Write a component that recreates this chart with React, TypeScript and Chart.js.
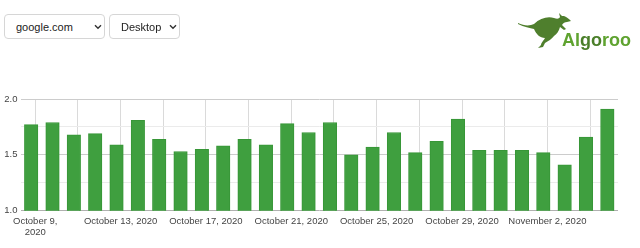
import React, { useEffect, useRef } from "react";
import { Chart, registerables } from "chart.js";

Chart.register(...registerables);

const dates = [
  "Oct 9", "Oct 10", "Oct 11", "Oct 12", "Oct 13", "Oct 14", "Oct 15",
  "Oct 16", "Oct 17", "Oct 18", "Oct 19", "Oct 20", "Oct 21", "Oct 22",
  "Oct 23", "Oct 24", "Oct 25", "Oct 26", "Oct 27", "Oct 28", "Oct 29",
  "Oct 30", "Oct 31", "Nov 1", "Nov 2", "Nov 3", "Nov 4", "Nov 5",
];
const values = [
  1.77, 1.79, 1.68, 1.69, 1.59, 1.81, 1.64,
  1.53, 1.55, 1.58, 1.64, 1.59, 1.78, 1.70,
  1.79, 1.50, 1.57, 1.70, 1.52, 1.62, 1.82,
  1.54, 1.54, 1.54, 1.52, 1.41, 1.66, 1.91,
];
const gridDays = [0, 2, 4, 6, 8, 10, 12, 14, 16, 18, 20, 22, 24, 26];
const xTickLabels: (string | string[])[] = [
  ["October 9,", "2020"],
  "October 13, 2020",
  "October 17, 2020",
  "October 21, 2020",
  "October 25, 2020",
  "October 29, 2020",
  "November 2, 2020",
];
const yMin = 1.0;
const yMax = 2.0;
const yStep = 0.25;
const domains = ["google.com"];
const devices = ["Desktop"];

const TICK_SHIFT = 0.19;
const FONT = "'Liberation Sans', Arial, sans-serif";

function Chevron({ left }: { left: number }) {
  return (
    <svg
      style={{ position: "absolute", left, top: 24, pointerEvents: "none" }}
      width="8"
      height="6"
      viewBox="0 0 8 6"
    >
      <path d="M1 1.2 L4 4.2 L7 1.2" fill="none" stroke="#333" strokeWidth="1.4" />
    </svg>
  );
}

const selectStyle: React.CSSProperties = {
  position: "absolute",
  top: 14,
  height: 25,
  boxSizing: "border-box",
  border: "1px solid #d6d6d6",
  borderRadius: 4,
  background: "#fff",
  fontFamily: FONT,
  fontSize: 11,
  color: "#222",
  appearance: "none",
  WebkitAppearance: "none",
  paddingLeft: 11,
  outline: "none",
};

export default function App() {
  const canvasRef = useRef<HTMLCanvasElement | null>(null);

  useEffect(() => {
    if (!canvasRef.current) return;
    const chart = new Chart(canvasRef.current, {
      type: "bar",
      data: {
        labels: dates,
        datasets: [
          {
            data: values.map((v, i) => ({ x: i, y: v })),
            backgroundColor: "#3f9f3f",
            borderColor: "#379637",
            borderWidth: 1,
            barThickness: 13.5,
          },
        ],
      },
      options: {
        animation: false,
        responsive: true,
        maintainAspectRatio: false,
        layout: { padding: { left: 0, right: 22, top: 99, bottom: 0 } },
        plugins: { legend: { display: false }, tooltip: { enabled: false } },
        scales: {
          x: {
            type: "linear",
            min: -0.5,
            max: 27.5,
            offset: false,
            border: { display: false },
            grid: { offset: false, drawTicks: false, color: "#dadada", lineWidth: 1 },
            afterBuildTicks: (scale: any) => {
              scale.ticks = gridDays.map((d) => ({ value: d + TICK_SHIFT }));
            },
            afterFit: (scale: any) => {
              scale.height = 37.3;
            },
            ticks: {
              autoSkip: false,
              maxRotation: 0,
              minRotation: 0,
              padding: 5,
              color: "#444",
              font: { family: FONT, size: 9.5, lineHeight: 1.2 },
              callback: (_v: any, index: number) =>
                index % 2 === 0 ? xTickLabels[index / 2] : "",
            },
          },
          y: {
            min: yMin,
            max: yMax,
            border: { display: false },
            afterFit: (scale: any) => {
              scale.width = 20.5;
            },
            grid: {
              drawTicks: false,
              color: (ctx: any) => {
                const v = ctx.tick ? ctx.tick.value : 0;
                if (Math.abs(v - yMin) < 1e-6) return "#b0b0b0";
                return Math.abs(v * 2 - Math.round(v * 2)) < 1e-6 ? "#cccccc" : "#ebebeb";
              },
            },
            ticks: {
              stepSize: yStep,
              padding: 3,
              color: "#444",
              font: { family: FONT, size: 9.5 },
              callback: (v: any) => {
                const n = Number(v);
                return Math.abs(n * 2 - Math.round(n * 2)) < 1e-6 ? n.toFixed(1) : "";
              },
            },
          },
        },
      },
    });
    return () => chart.destroy();
  }, []);

  return (
    <div
      style={{
        position: "absolute",
        left: 0,
        top: 0,
        width: 640,
        height: 248,
        background: "#fff",
        overflow: "hidden",
      }}
    >
      <div style={{ position: "absolute", left: 0, top: 0, width: 640, height: 248 }}>
        <canvas ref={canvasRef} />
      </div>

      <select style={{ ...selectStyle, left: 4, width: 101 }} defaultValue={domains[0]}>
        {domains.map((d) => (
          <option key={d}>{d}</option>
        ))}
      </select>
      <Chevron left={94} />
      <select style={{ ...selectStyle, left: 109, width: 71 }} defaultValue={devices[0]}>
        {devices.map((d) => (
          <option key={d}>{d}</option>
        ))}
      </select>
      <Chevron left={169} />

      <svg
        style={{ position: "absolute", left: 514, top: 12 }}
        width="60"
        height="38"
        viewBox="0 0 60 38"
      >
        <path
          d="M4,11 C10,14 16,14 20,12 C26,6 34,4 40,6 C43,7 45,7 46,5 L45,1 L48,4 L50,4 C53,5 55,7 57,9 L53,10 C51,10 49,11 48,13 L52,17 L50,18 L46,15 C45,19 43,22 40,24 C38,27 34,29 31,31 L29,35 L24,36 L27,33 C27,31 30,28 31,26 C26,26 22,22 20,17 C16,16 10,15 4,12 Z"
          fill="#4f7f2d"
        />
      </svg>
      <div
        style={{
          position: "absolute",
          left: 562,
          top: 31,
          lineHeight: "18px",
          fontFamily: FONT,
          fontWeight: "bold",
          fontSize: 18,
          whiteSpace: "nowrap",
        }}
      >
        <span style={{ color: "#5fa330" }}>Al</span>
        <span style={{ color: "#4b7f2a" }}>go</span>
        <span style={{ color: "#5fa330" }}>roo</span>
      </div>
    </div>
  );
}
